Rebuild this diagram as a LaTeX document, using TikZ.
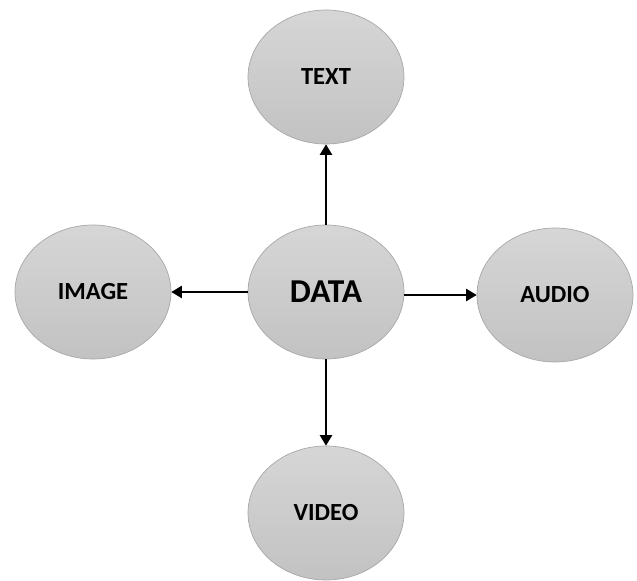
\documentclass[tikz,border=0pt]{standalone}
\usepackage{fontspec}
\setmainfont{Carlito}
\usetikzlibrary{shapes}
\usetikzlibrary{arrows.meta}

\definecolor{bubbletop}{HTML}{D6D6D6}
\definecolor{bubblebot}{HTML}{C2C2C2}
\definecolor{bubbleline}{HTML}{A8A8A8}

\begin{document}
\begin{tikzpicture}[x=0.02cm, y=-0.02cm,
    bubble/.style={ellipse, draw=bubbleline, top color=bubbletop, bottom color=bubblebot,
        minimum width=3.12cm, minimum height=2.68cm, inner sep=0pt,
        font=\bfseries\fontsize{14}{16}\selectfont},
    link/.style={-{Triangle[length=6pt,width=7pt]}, line width=0.8pt}]
    \useasboundingbox (0,0) rectangle (637,581);

    \node (D) at (326,292) [bubble, font=\bfseries\fontsize{19}{22}\selectfont] {DATA};
    \node (T) at (326,77)  [bubble] {TEXT};
    \node (I) at (93,292)  [bubble] {IMAGE};
    \node (A) at (555,295) [bubble] {AUDIO};
    \node (V) at (326,513) [bubble] {VIDEO};

    \draw [link] (D) -- (T);
    \draw [link] (D) -- (I);
    \draw [link] (D.east |- A) -- (A);
    \draw [link] (D) -- (V);
\end{tikzpicture}
\end{document}
